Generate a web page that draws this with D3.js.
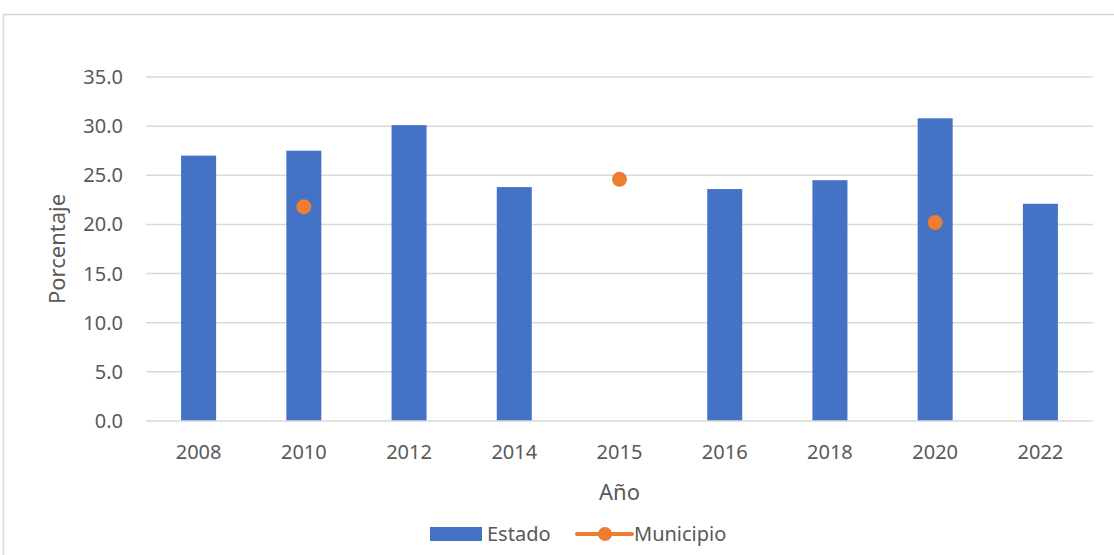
<!DOCTYPE html>
<html>
<head>
<meta charset="utf-8">
<script src="https://cdn.jsdelivr.net/npm/d3@7"></script>
<style>
  body { margin: 0; background: #fff; }
  text { font-family: "Noto Sans", "Open Sans", sans-serif; fill: #595959; }
</style>
</head>
<body>
<div id="chart"></div>
<script>
var years = ["2008", "2010", "2012", "2014", "2015", "2016", "2018", "2020", "2022"];
var estado = [27.0, 27.5, 30.1, 23.8, null, 23.6, 24.5, 30.8, 22.1];
var municipio = [null, 21.8, null, null, 24.6, null, null, 20.2, null];
var yTicks = [0, 5, 10, 15, 20, 25, 30, 35];

var width = 1114,
    height = 555;

var margin = {left: 146, right: 21, top: 77, bottom: 134};

var svg = d3.select("#chart")
    .append("svg")
    .attr("width", width)
    .attr("height", height);

// outer chart frame
svg.append("rect")
    .attr("x", 3.5)
    .attr("y", 14.5)
    .attr("width", width + 10)
    .attr("height", height + 10)
    .style("fill", "none")
    .style("stroke", "#d9d9d9")
    .style("stroke-width", 1.5);

var x = d3.scaleBand()
    .domain(years)
    .range([margin.left, width - margin.right])
    .paddingInner(0.665)
    .paddingOuter(0.3325);

var y = d3.scaleLinear()
    .domain([0, 35])
    .range([height - margin.bottom, margin.top]);

// gridlines
svg.append("g")
    .selectAll("line")
    .data(yTicks.slice(1))
    .enter()
    .append("line")
    .attr("x1", margin.left)
    .attr("x2", width - margin.right)
    .attr("y1", function(d) { return y(d); })
    .attr("y2", function(d) { return y(d); })
    .style("stroke", "#d9d9d9")
    .style("stroke-width", 1.5);

// y labels
svg.append("g")
    .selectAll("text")
    .data(yTicks)
    .enter()
    .append("text")
    .attr("x", 123)
    .attr("y", function(d) { return y(d); })
    .attr("dy", "0.35em")
    .attr("text-anchor", "end")
    .style("font-size", "20px")
    .text(function(d) { return d.toFixed(1); });

// bars
var bw = 35;
svg.append("g")
    .selectAll("rect")
    .data(years.map(function(d, i) { return {year: d, v: estado[i]}; }).filter(function(d) { return d.v != null; }))
    .enter()
    .append("rect")
    .attr("x", function(d) { return x(d.year) + x.bandwidth() / 2 - bw / 2; })
    .attr("y", function(d) { return y(d.v); })
    .attr("width", bw)
    .attr("height", function(d) { return y(0) - y(d.v); })
    .style("fill", "#4472c4");

// baseline
svg.append("line")
    .attr("x1", margin.left)
    .attr("x2", width - margin.right)
    .attr("y1", y(0))
    .attr("y2", y(0))
    .style("stroke", "#d9d9d9")
    .style("stroke-width", 1.5);

// municipio points
svg.append("g")
    .selectAll("circle")
    .data(years.map(function(d, i) { return {year: d, v: municipio[i]}; }).filter(function(d) { return d.v != null; }))
    .enter()
    .append("circle")
    .attr("cx", function(d) { return x(d.year) + x.bandwidth() / 2; })
    .attr("cy", function(d) { return y(d.v); })
    .attr("r", 7.5)
    .style("fill", "#ed7d31");

// x labels
svg.append("g")
    .selectAll("text")
    .data(years)
    .enter()
    .append("text")
    .attr("x", function(d) { return x(d) + x.bandwidth() / 2; })
    .attr("y", 459)
    .attr("text-anchor", "middle")
    .style("font-size", "20px")
    .text(function(d) { return d; });

// axis titles
svg.append("text")
    .attr("x", (margin.left + width - margin.right) / 2)
    .attr("y", 500)
    .attr("text-anchor", "middle")
    .style("font-size", "22px")
    .text("Año");

svg.append("text")
    .attr("transform", "translate(65," + (y(17.5)) + ") rotate(-90)")
    .attr("text-anchor", "middle")
    .style("font-size", "22px")
    .text("Porcentaje");

// legend
var lg = svg.append("g");
lg.append("rect")
    .attr("x", 430)
    .attr("y", 527)
    .attr("width", 52)
    .attr("height", 14)
    .style("fill", "#4472c4");
lg.append("text")
    .attr("x", 487)
    .attr("y", 541)
    .style("font-size", "20px")
    .text("Estado");
lg.append("line")
    .attr("x1", 577)
    .attr("x2", 632)
    .attr("y1", 534)
    .attr("y2", 534)
    .style("stroke", "#ed7d31")
    .style("stroke-width", 4)
    .style("stroke-linecap", "round");
lg.append("circle")
    .attr("cx", 605)
    .attr("cy", 534)
    .attr("r", 7)
    .style("fill", "#ed7d31");
lg.append("text")
    .attr("x", 634)
    .attr("y", 541)
    .style("font-size", "20px")
    .text("Municipio");
</script>
</body>
</html>
